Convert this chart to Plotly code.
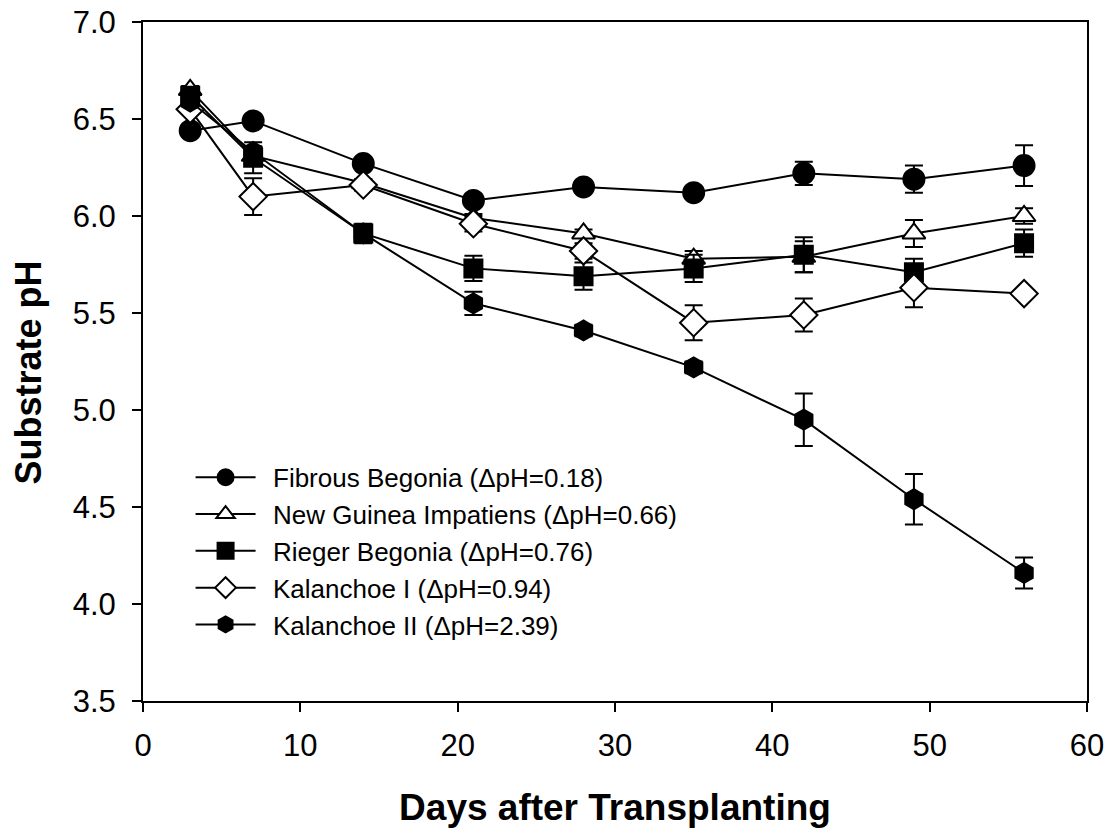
import plotly.graph_objects as go

days = [3, 7, 14, 21, 28, 35, 42, 49, 56]

fibrous = [6.44, 6.49, 6.27, 6.08, 6.15, 6.12, 6.22, 6.19, 6.26]
fibrous_err = [0.02, 0.02, 0.02, 0.03, 0.02, 0.02, 0.06, 0.07, 0.105]

ngi = [6.65, 6.31, 6.17, 5.99, 5.91, 5.78, 5.79, 5.91, 6.00]
ngi_err = [0.02, 0.03, 0.02, 0.02, 0.02, 0.04, 0.08, 0.07, 0.04]

rieger = [6.62, 6.30, 5.91, 5.73, 5.69, 5.73, 5.80, 5.71, 5.86]
rieger_err = [0.03, 0.08, 0.05, 0.065, 0.07, 0.07, 0.09, 0.07, 0.07]

kal1 = [6.55, 6.10, 6.16, 5.96, 5.82, 5.45, 5.49, 5.63, 5.60]
kal1_err = [0.02, 0.095, 0.03, 0.04, 0.04, 0.09, 0.085, 0.10, 0.02]

kal2 = [6.59, 6.33, 5.91, 5.55, 5.41, 5.22, 4.95, 4.54, 4.16]
kal2_err = [0.02, 0.03, 0.03, 0.06, 0.03, 0.03, 0.135, 0.13, 0.08]

names = [
    "Fibrous Begonia (ΔpH=0.18)",
    "New Guinea Impatiens (ΔpH=0.66)",
    "Rieger Begonia (ΔpH=0.76)",
    "Kalanchoe I (ΔpH=0.94)",
    "Kalanchoe II (ΔpH=2.39)",
]
series = [fibrous, ngi, rieger, kal1, kal2]
errors = [fibrous_err, ngi_err, rieger_err, kal1_err, kal2_err]
symbols = ["circle", "triangle-up", "square", "diamond", "hexagon"]
fills = ["black", "white", "black", "white", "black"]
sizes = [21, 20, 18, 21, 20]

fig = go.Figure()
for i in range(5):
    fig.add_trace(go.Scatter(
        x=days, y=series[i], name="\u00a0\u2009" + names[i], mode="lines+markers",
        line=dict(color="black", width=2),
        marker=dict(symbol=symbols[i], size=sizes[i], color=fills[i],
                    line=dict(color="black", width=2)),
        error_y=dict(type="data", array=errors[i], visible=True,
                     color="black", thickness=2, width=9),
        legendgroup=str(i),
    ))

fontfam = "Liberation Sans, Arial, sans-serif"
fig.update_layout(
    width=1112, height=831,
    margin=dict(l=135, r=33, t=14, b=138, autoexpand=False),
    paper_bgcolor="white", plot_bgcolor="white",
    font=dict(family=fontfam, color="black"),
    showlegend=True,
    legend=dict(x=0.0504, y=0.364, xanchor="left", yanchor="top",
                bgcolor="rgba(0,0,0,0)", font=dict(size=26, family=fontfam),
                traceorder="grouped", tracegroupgap=0, itemwidth=60),
    xaxis=dict(range=[0, 60], tickvals=[0, 10, 20, 30, 40, 50, 60],
               automargin=False,
               showgrid=False, zeroline=False, showline=True, linecolor="black",
               linewidth=2, mirror=True, ticks="outside", ticklen=9, tickwidth=2,
               tickcolor="black", tickfont=dict(size=31), ticklabelstandoff=7,
               title=dict(text="<b>Days after Transplanting</b>", font=dict(size=37),
                          standoff=32)),
    yaxis=dict(range=[3.5, 7.0], tickvals=[3.5, 4.0, 4.5, 5.0, 5.5, 6.0, 6.5, 7.0],
               tickformat=".1f", ticklabeloverflow="allow", automargin=False,
               showgrid=False, zeroline=False, showline=True, linecolor="black",
               linewidth=2, mirror=True, ticks="outside", ticklen=9, tickwidth=2,
               tickcolor="black", tickfont=dict(size=31), ticklabelstandoff=10),
    annotations=[dict(text="<b>Substrate pH</b>", textangle=-90, showarrow=False,
                      xref="paper", yref="paper", x=-0.1223, y=0.483,
                      xanchor="center", yanchor="middle",
                      font=dict(size=36, family=fontfam, color="black"))],
)

fig.write_html("out.html")
